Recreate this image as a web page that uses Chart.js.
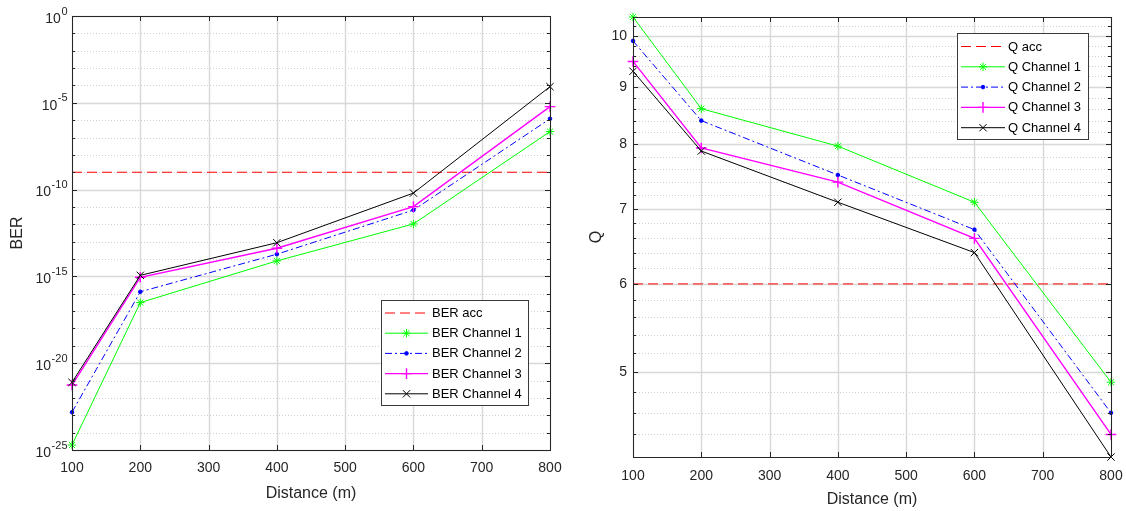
<!DOCTYPE html>
<html><head><meta charset="utf-8">
<script src="https://cdn.jsdelivr.net/npm/chart.js@4.4.1/dist/chart.umd.min.js"></script>
<style>
html,body{margin:0;padding:0;background:#fff;width:1126px;height:511px;overflow:hidden}
.box{position:absolute;top:0;height:511px;width:563px}
#b1{left:0}
#b2{left:563px}
</style></head><body>
<div class="box" id="b1"><canvas id="c1" width="563" height="511"></canvas></div>
<div class="box" id="b2"><canvas id="c2" width="563" height="511"></canvas></div>
<script>
// ---------- data ----------
const distances = [100, 200, 400, 600, 800];
const xTicks = [100, 200, 300, 400, 500, 600, 700, 800];

const berAcc = 1e-9;
const berCh1 = [1.95e-25, 3.1e-17, 7.8e-15, 1.05e-12, 2.2e-7];
const berCh2 = [1.5e-23, 1.3e-16, 1.9e-14, 6.6e-12, 1.2e-6];
const berCh3 = [5.5e-22, 8.9e-16, 4.2e-14, 1.05e-11, 6.0e-6];
const berCh4 = [7.9e-22, 1.15e-15, 8.7e-14, 6.3e-11, 8.5e-5];
const berLabels = ['BER acc', 'BER Channel 1', 'BER Channel 2', 'BER Channel 3', 'BER Channel 4'];
const berTickExponents = [0, -5, -10, -15, -20, -25];
const berMinorExponents = [-1,-2,-3,-4,-6,-7,-8,-9,-11,-12,-13,-14,-16,-17,-18,-19,-21,-22,-23,-24];

const qAcc = 6;
const qCh1 = [10.4, 8.61, 7.97, 7.10, 4.90];
const qCh2 = [9.90, 8.40, 7.51, 6.71, 4.60];
const qCh3 = [9.49, 7.94, 7.40, 6.59, 4.40];
const qCh4 = [9.30, 7.89, 7.10, 6.40, 4.20];
const qLabels = ['Q acc', 'Q Channel 1', 'Q Channel 2', 'Q Channel 3', 'Q Channel 4'];
const qTicks = [5, 6, 7, 8, 9, 10];
const qMinor = [4.4,4.6,4.8,5.2,5.4,5.6,5.8,6.2,6.4,6.6,6.8,7.2,7.4,7.6,7.8,8.2,8.4,8.6,8.8,9.2,9.4,9.6,9.8,10.2];

// ---------- styles ----------
const FONT = '"Liberation Sans", Arial, Helvetica, sans-serif';
const TXT = '#262626';
Chart.defaults.font.family = FONT;
Chart.defaults.color = TXT;

const seriesStyles = [
  {color:'#ff0000', dash:[10,5], pointStyle:false, radius:0, width:1},
  {color:'#00ff00', dash:[], pointStyle:'star', radius:4.2, width:1},
  {color:'#0000ff', dash:[7,3,2,3], pointStyle:'circle', radius:1.8, width:1},
  {color:'#ff00ff', dash:[], pointStyle:'cross', radius:5.3, width:1.4},
  {color:'#000000', dash:[], pointStyle:'crossRot', radius:5.2, width:1}
];

function makeDatasets(labels, seriesList) {
  return seriesList.map((ys, i) => {
    const s = seriesStyles[i];
    return {
      label: labels[i],
      data: distances.map((d, k) => ({x: d, y: ys[k]})),
      borderColor: s.color,
      backgroundColor: s.color,
      borderWidth: s.width,
      borderDash: s.dash,
      pointStyle: s.pointStyle === false ? 'circle' : s.pointStyle,
      pointRadius: s.radius,
      pointBorderWidth: s.width,
      pointBorderColor: s.color,
      pointBackgroundColor: s.color,
      tension: 0,
      fill: false,
      clip: false,
      order: 5 - i
    };
  });
}

function makeDecor(cfg) {
  return {
    id: 'decor',
    beforeDatasetsDraw(chart) {
      const {ctx, chartArea: a, scales: {x, y}} = chart;
      ctx.save();
      ctx.strokeStyle = '#cfcfcf'; ctx.lineWidth = 1; ctx.setLineDash([1, 2]);
      cfg.yMinor.forEach(v => {
        const py = Math.round(y.getPixelForValue(v)) + 0.5;
        ctx.beginPath(); ctx.moveTo(a.left, py); ctx.lineTo(a.right, py); ctx.stroke();
      });
      ctx.setLineDash([]); ctx.strokeStyle = '#d8d8d8'; ctx.lineWidth = 1.4;
      cfg.yMajor.forEach(v => {
        const py = Math.round(y.getPixelForValue(v)) + 0.5;
        ctx.beginPath(); ctx.moveTo(a.left, py); ctx.lineTo(a.right, py); ctx.stroke();
      });
      cfg.xMajor.forEach(v => {
        const px = Math.round(x.getPixelForValue(v)) + 0.5;
        ctx.beginPath(); ctx.moveTo(px, a.top); ctx.lineTo(px, a.bottom); ctx.stroke();
      });
      ctx.restore();
    },
    afterDraw(chart) {
      const {ctx, chartArea: a, scales: {x, y}} = chart;
      ctx.save();
      ctx.strokeStyle = TXT; ctx.lineWidth = 1; ctx.setLineDash([]);
      ctx.strokeRect(Math.round(a.left) + 0.5, Math.round(a.top) + 0.5,
                     Math.round(a.right - a.left), Math.round(a.bottom - a.top));
      ctx.beginPath();
      cfg.xMajor.forEach(v => {
        const px = Math.round(x.getPixelForValue(v)) + 0.5;
        ctx.moveTo(px, a.bottom); ctx.lineTo(px, a.bottom - 5);
        ctx.moveTo(px, a.top); ctx.lineTo(px, a.top + 5);
      });
      cfg.yMajor.forEach(v => {
        const py = Math.round(y.getPixelForValue(v)) + 0.5;
        ctx.moveTo(a.left, py); ctx.lineTo(a.left + 5, py);
        ctx.moveTo(a.right, py); ctx.lineTo(a.right - 5, py);
      });
      cfg.yMinor.forEach(v => {
        const py = Math.round(y.getPixelForValue(v)) + 0.5;
        ctx.moveTo(a.left, py); ctx.lineTo(a.left + 3, py);
        ctx.moveTo(a.right, py); ctx.lineTo(a.right - 3, py);
      });
      ctx.stroke();

      if (cfg.powerLabels) {
        ctx.fillStyle = TXT;
        cfg.powerLabels.forEach(e => {
          const py = y.getPixelForValue(Math.pow(10, e));
          const base = '10', sup = String(e);
          ctx.font = '14px ' + FONT;
          const wb = ctx.measureText(base).width;
          ctx.font = '11px ' + FONT;
          const ws = ctx.measureText(sup).width;
          const x0 = cfg.powerRight - wb - ws;
          ctx.font = '14px ' + FONT;
          ctx.textBaseline = 'middle'; ctx.textAlign = 'left';
          ctx.fillText(base, x0, py + 3);
          ctx.font = '11px ' + FONT;
          ctx.textBaseline = 'alphabetic';
          ctx.fillText(sup, x0 + wb + 0.5, py - 1.5);
        });
      }

      const L = cfg.legend;
      ctx.fillStyle = '#ffffff';
      ctx.fillRect(L.x0, L.y0, L.x1 - L.x0, L.y1 - L.y0);
      ctx.strokeStyle = '#3a3a3a'; ctx.lineWidth = 1;
      ctx.strokeRect(L.x0 + 0.5, L.y0 + 0.5, L.x1 - L.x0, L.y1 - L.y0);
      chart.data.datasets.forEach((ds, i) => {
        const s = seriesStyles[i];
        const ey = L.firstY + i * L.step;
        ctx.strokeStyle = s.color; ctx.fillStyle = s.color;
        ctx.lineWidth = s.width; ctx.setLineDash(s.dash);
        ctx.beginPath(); ctx.moveTo(L.sx0, ey + 0.5); ctx.lineTo(L.sx1, ey + 0.5); ctx.stroke();
        ctx.setLineDash([]);
        if (s.pointStyle) {
          Chart.helpers.drawPoint(ctx, {pointStyle: s.pointStyle, radius: s.radius, borderWidth: s.width, rotation: 0},
                                  (L.sx0 + L.sx1) / 2, ey + 0.5);
        }
        ctx.fillStyle = '#000000';
        ctx.font = '13px ' + FONT;
        ctx.textAlign = 'left'; ctx.textBaseline = 'middle';
        ctx.fillText(ds.label, L.tx, ey + 1);
      });
      ctx.restore();
    }
  };
}

function commonX(labelPad, titleBottom, height) {
  return {
    type: 'linear', min: 100, max: 800,
    afterBuildTicks: s => { s.ticks = xTicks.map(v => ({value: v})); },
    grid: {display: false, drawTicks: false},
    border: {display: false},
    ticks: {font: {size: 14}, color: TXT, padding: labelPad, maxRotation: 0, autoSkip: false,
            callback: v => String(v)},
    title: {display: true, text: 'Distance (m)', font: {size: 16}, color: TXT,
            padding: {top: 0, bottom: titleBottom}},
    afterFit: s => { s.height = height; s.paddingLeft = 0; s.paddingRight = 0; }
  };
}

// ---------- left chart: BER ----------
new Chart(document.getElementById('c1'), {
  type: 'line',
  data: {datasets: makeDatasets(berLabels, [distances.map(() => berAcc), berCh1, berCh2, berCh3, berCh4])},
  options: {
    responsive: false, animation: false, events: [],
    layout: {padding: {left: 0, right: 13, top: 16, bottom: 0}},
    plugins: {legend: {display: false}, tooltip: {enabled: false}},
    scales: {
      x: commonX(10, 8, 61),
      y: {
        type: 'logarithmic', min: 1e-25, max: 1,
        afterBuildTicks: s => { s.ticks = berTickExponents.map(e => ({value: Math.pow(10, e)})); },
        grid: {display: false, drawTicks: false},
        border: {display: false},
        ticks: {display: false},
        title: {display: true, text: 'BER', font: {size: 16}, color: TXT, padding: {top: 8, bottom: 0}},
        afterFit: s => { s.width = 72; s.paddingTop = 0; s.paddingBottom = 0; }
      }
    }
  },
  plugins: [makeDecor({
    xMajor: xTicks,
    yMajor: berTickExponents.map(e => Math.pow(10, e)),
    yMinor: berMinorExponents.map(e => Math.pow(10, e)),
    powerLabels: berTickExponents,
    powerRight: 67,
    legend: {x0: 381, y0: 300, x1: 528, y1: 405, sx0: 385, sx1: 428, tx: 432, firstY: 312.5, step: 20.2}
  })]
});

// ---------- right chart: Q ----------
new Chart(document.getElementById('c2'), {
  type: 'line',
  data: {datasets: makeDatasets(qLabels, [distances.map(() => qAcc), qCh1, qCh2, qCh3, qCh4])},
  options: {
    responsive: false, animation: false, events: [],
    layout: {padding: {left: 0, right: 15, top: 17, bottom: 0}},
    plugins: {legend: {display: false}, tooltip: {enabled: false}},
    scales: {
      x: commonX(11, 2, 54),
      y: {
        type: 'logarithmic', min: 4.2, max: 10.4,
        afterBuildTicks: s => { s.ticks = qTicks.map(v => ({value: v})); },
        grid: {display: false, drawTicks: false},
        border: {display: false},
        ticks: {font: {size: 14}, color: TXT, padding: 6, callback: v => String(v)},
        title: {display: true, text: 'Q', font: {size: 16}, color: TXT, padding: {top: 24, bottom: 0}},
        afterFit: s => { s.width = 70; s.paddingTop = 0; s.paddingBottom = 0; }
      }
    }
  },
  plugins: [makeDecor({
    xMajor: xTicks,
    yMajor: qTicks,
    yMinor: qMinor,
    legend: {x0: 394, y0: 33, x1: 525, y1: 139, sx0: 398, sx1: 442, tx: 445, firstY: 46, step: 20.3}
  })]
});
</script>
</body></html>
